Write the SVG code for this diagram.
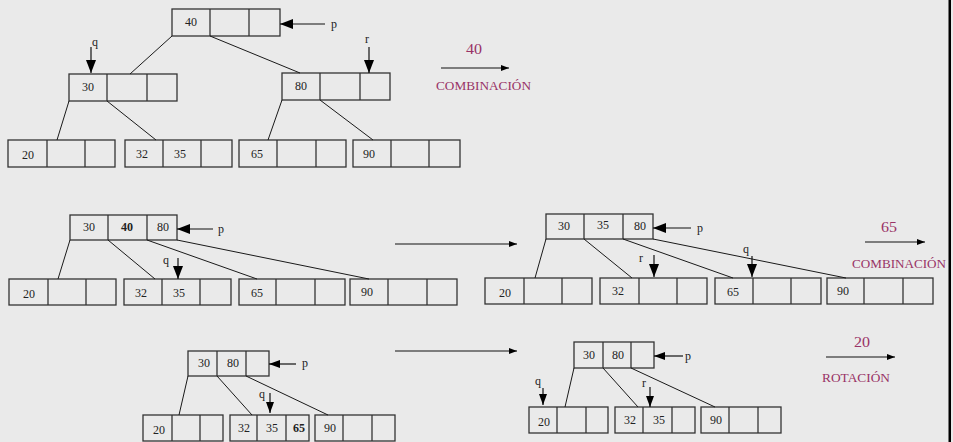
<svg xmlns="http://www.w3.org/2000/svg" width="953" height="442" viewBox="0 0 953 442">
<style>
.bx{fill:none;stroke:#333;stroke-width:1.3}
.dv{stroke:#333;stroke-width:1.3}
.ln{stroke:#1a1a1a;stroke-width:1;fill:none}
.t{font-family:"Liberation Serif","Times New Roman",serif;font-size:12px;fill:#222;text-anchor:middle}
.b{font-weight:bold}
.lb{font-family:"Liberation Serif","Times New Roman",serif;font-size:12px;fill:#222}
.op{font-family:"Liberation Serif","Times New Roman",serif;fill:#993366;text-anchor:middle}
.pa{stroke:#111;stroke-width:1.2;marker-end:url(#ah)}
.pm{stroke:#111;stroke-width:1.2;marker-end:url(#am)}
.ta{stroke:#111;stroke-width:1.2;marker-end:url(#as)}
</style>
<defs>
<marker id="ah" markerUnits="userSpaceOnUse" markerWidth="13" markerHeight="10" refX="13" refY="5" orient="auto"><path d="M0,0 L13,5 L0,10 z" fill="#000"/></marker>
<marker id="am" markerUnits="userSpaceOnUse" markerWidth="11" markerHeight="8" refX="11" refY="4" orient="auto"><path d="M0,0 L11,4 L0,8 z" fill="#000"/></marker>
<marker id="as" markerUnits="userSpaceOnUse" markerWidth="8" markerHeight="6" refX="8" refY="3" orient="auto"><path d="M0,0 L8,3 L0,6 z" fill="#000"/></marker>
</defs>
<rect x="0" y="0" width="953" height="442" fill="#eaeaea"/>
<rect x="948.5" y="0" width="2.5" height="442" fill="#000"/>

<!-- ===== Top tree ===== -->
<g id="t1-root"><rect class="bx" x="172" y="9" width="108" height="27"/><line class="dv" x1="210" y1="9" x2="210" y2="36"/><line class="dv" x1="249" y1="9" x2="249" y2="36"/><text class="t" x="191" y="26">40</text></g>
<g id="t1-n30"><rect class="bx" x="69" y="74" width="108" height="27"/><line class="dv" x1="107" y1="74" x2="107" y2="101"/><line class="dv" x1="147" y1="74" x2="147" y2="101"/><text class="t" x="88" y="91">30</text></g>
<g id="t1-n80"><rect class="bx" x="282" y="73" width="108" height="27"/><line class="dv" x1="320" y1="73" x2="320" y2="100"/><line class="dv" x1="360" y1="73" x2="360" y2="100"/><text class="t" x="301" y="90">80</text></g>
<g id="t1-l20"><rect class="bx" x="8" y="140" width="107" height="27"/><line class="dv" x1="47" y1="140" x2="47" y2="167"/><line class="dv" x1="85" y1="140" x2="85" y2="167"/><text class="t" x="28" y="159">20</text></g>
<g id="t1-l32"><rect class="bx" x="125" y="140" width="107" height="27"/><line class="dv" x1="163" y1="140" x2="163" y2="167"/><line class="dv" x1="201" y1="140" x2="201" y2="167"/><text class="t" x="142" y="158">32</text><text class="t" x="180" y="158">35</text></g>
<g id="t1-l65"><rect class="bx" x="239" y="140" width="107" height="27"/><line class="dv" x1="277" y1="140" x2="277" y2="167"/><line class="dv" x1="316" y1="140" x2="316" y2="167"/><text class="t" x="257" y="158">65</text></g>
<g id="t1-l90"><rect class="bx" x="353" y="140" width="107" height="27"/><line class="dv" x1="391" y1="140" x2="391" y2="167"/><line class="dv" x1="429" y1="140" x2="429" y2="167"/><text class="t" x="369" y="158">90</text></g>

<!-- ===== Middle left ===== -->
<g id="t2-root"><rect class="bx" x="70" y="215" width="107" height="25"/><line class="dv" x1="108" y1="215" x2="108" y2="240"/><line class="dv" x1="147" y1="215" x2="147" y2="240"/><text class="t" x="89" y="231">30</text><text class="t b" x="127" y="231">40</text><text class="t" x="163" y="231">80</text></g>
<g id="t2-l20"><rect class="bx" x="9" y="279" width="107" height="26"/><line class="dv" x1="48" y1="279" x2="48" y2="305"/><line class="dv" x1="86" y1="279" x2="86" y2="305"/><text class="t" x="29" y="298">20</text></g>
<g id="t2-l32"><rect class="bx" x="124" y="279" width="107" height="26"/><line class="dv" x1="162" y1="279" x2="162" y2="305"/><line class="dv" x1="200" y1="279" x2="200" y2="305"/><text class="t" x="141" y="297">32</text><text class="t" x="179" y="297">35</text></g>
<g id="t2-l65"><rect class="bx" x="239" y="279" width="106" height="26"/><line class="dv" x1="276" y1="279" x2="276" y2="305"/><line class="dv" x1="315" y1="279" x2="315" y2="305"/><text class="t" x="257" y="297">65</text></g>
<g id="t2-l90"><rect class="bx" x="350" y="279" width="107" height="26"/><line class="dv" x1="388" y1="279" x2="388" y2="305"/><line class="dv" x1="427" y1="279" x2="427" y2="305"/><text class="t" x="367" y="296">90</text></g>

<!-- ===== Middle right ===== -->
<g id="t3-root"><rect class="bx" x="546" y="214" width="107" height="25"/><line class="dv" x1="584" y1="214" x2="584" y2="239"/><line class="dv" x1="623" y1="214" x2="623" y2="239"/><text class="t" x="564" y="230">30</text><text class="t" x="603" y="229">35</text><text class="t" x="640" y="230">80</text></g>
<g id="t3-l20"><rect class="bx" x="485" y="278" width="107" height="26"/><line class="dv" x1="524" y1="278" x2="524" y2="304"/><line class="dv" x1="562" y1="278" x2="562" y2="304"/><text class="t" x="505" y="297">20</text></g>
<g id="t3-l32"><rect class="bx" x="600" y="278" width="107" height="26"/><line class="dv" x1="639" y1="278" x2="639" y2="304"/><line class="dv" x1="677" y1="278" x2="677" y2="304"/><text class="t" x="618" y="295">32</text></g>
<g id="t3-l65"><rect class="bx" x="715" y="278" width="106" height="26"/><line class="dv" x1="753" y1="278" x2="753" y2="304"/><line class="dv" x1="791" y1="278" x2="791" y2="304"/><text class="t" x="733" y="296">65</text></g>
<g id="t3-l90"><rect class="bx" x="827" y="278" width="106" height="26"/><line class="dv" x1="864" y1="278" x2="864" y2="304"/><line class="dv" x1="903" y1="278" x2="903" y2="304"/><text class="t" x="843" y="295">90</text></g>

<!-- ===== Bottom left ===== -->
<g id="t4-root"><rect class="bx" x="188" y="351" width="81" height="25"/><line class="dv" x1="217" y1="351" x2="217" y2="376"/><line class="dv" x1="246" y1="351" x2="246" y2="376"/><text class="t" x="204" y="367">30</text><text class="t" x="233" y="367">80</text></g>
<g id="t4-l20"><rect class="bx" x="143" y="415" width="80" height="26"/><line class="dv" x1="172" y1="415" x2="172" y2="441"/><line class="dv" x1="200" y1="415" x2="200" y2="441"/><text class="t" x="159" y="434">20</text></g>
<g id="t4-l32"><rect class="bx" x="230" y="415" width="79" height="26"/><line class="dv" x1="257" y1="415" x2="257" y2="441"/><line class="dv" x1="286" y1="415" x2="286" y2="441"/><text class="t" x="244" y="432">32</text><text class="t" x="272" y="432">35</text><text class="t b" x="299" y="432">65</text></g>
<g id="t4-l90"><rect class="bx" x="315" y="415" width="80" height="26"/><line class="dv" x1="343" y1="415" x2="343" y2="441"/><line class="dv" x1="372" y1="415" x2="372" y2="441"/><text class="t" x="330" y="432">90</text></g>

<!-- ===== Bottom right ===== -->
<g id="t5-root"><rect class="bx" x="574" y="342" width="80" height="26"/><line class="dv" x1="603" y1="342" x2="603" y2="368"/><line class="dv" x1="631" y1="342" x2="631" y2="368"/><text class="t" x="589" y="359">30</text><text class="t" x="618" y="359">80</text></g>
<g id="t5-l20"><rect class="bx" x="529" y="407" width="79" height="26"/><line class="dv" x1="557" y1="407" x2="557" y2="433"/><line class="dv" x1="586" y1="407" x2="586" y2="433"/><text class="t" x="544" y="426">20</text></g>
<g id="t5-l32"><rect class="bx" x="615" y="407" width="80" height="26"/><line class="dv" x1="643" y1="407" x2="643" y2="433"/><line class="dv" x1="672" y1="407" x2="672" y2="433"/><text class="t" x="630" y="424">32</text><text class="t" x="659" y="424">35</text></g>
<g id="t5-l90"><rect class="bx" x="701" y="407" width="80" height="26"/><line class="dv" x1="729" y1="407" x2="729" y2="433"/><line class="dv" x1="758" y1="407" x2="758" y2="433"/><text class="t" x="716" y="424">90</text></g>

<!-- ===== Connectors ===== -->
<g id="connectors">
<line class="ln" x1="172" y1="36" x2="130" y2="74"/>
<line class="ln" x1="210" y1="36" x2="300" y2="73"/>
<line class="ln" x1="69" y1="101" x2="57" y2="140"/>
<line class="ln" x1="107" y1="101" x2="156" y2="140"/>
<line class="ln" x1="282" y1="100" x2="268" y2="140"/>
<line class="ln" x1="320" y1="100" x2="373" y2="140"/>

<line class="ln" x1="70" y1="240" x2="58" y2="279"/>
<line class="ln" x1="108" y1="240" x2="155" y2="279"/>
<line class="ln" x1="147" y1="240" x2="257" y2="279"/>
<line class="ln" x1="177" y1="240" x2="369" y2="279"/>

<line class="ln" x1="546" y1="239" x2="535" y2="278"/>
<line class="ln" x1="584" y1="239" x2="632" y2="278"/>
<line class="ln" x1="623" y1="239" x2="733" y2="278"/>
<line class="ln" x1="653" y1="239" x2="846" y2="278"/>

<line class="ln" x1="188" y1="376" x2="179" y2="415"/>
<line class="ln" x1="217" y1="376" x2="252" y2="415"/>
<line class="ln" x1="246" y1="376" x2="328" y2="415"/>

<line class="ln" x1="574" y1="368" x2="565" y2="407"/>
<line class="ln" x1="603" y1="368" x2="638" y2="407"/>
<line class="ln" x1="631" y1="368" x2="715" y2="407"/>

<!-- pointers -->
<line class="pa" x1="325" y1="24" x2="280" y2="24"/>
<line class="pa" x1="91" y1="47" x2="91" y2="73"/>
<line class="pa" x1="369" y1="47" x2="369" y2="73"/>
<line class="pa" x1="213" y1="229" x2="177" y2="229"/>
<line class="pa" x1="178" y1="258" x2="178" y2="279"/>
<line class="pa" x1="691" y1="228" x2="653" y2="228"/>
<line class="pa" x1="654" y1="255" x2="654" y2="277"/>
<line class="pa" x1="752" y1="256" x2="752" y2="277"/>
<line class="pm" x1="296" y1="364" x2="269" y2="364"/>
<line class="pm" x1="270" y1="393" x2="270" y2="413"/>
<line class="pm" x1="683" y1="356" x2="654" y2="356"/>
<line class="pm" x1="543" y1="388" x2="543" y2="405"/>
<line class="pm" x1="650" y1="387" x2="650" y2="407"/>

<!-- transition arrows -->
<line class="ta" x1="441" y1="68" x2="509" y2="68"/>
<line class="ta" x1="395" y1="244" x2="517" y2="244"/>
<line class="ta" x1="865" y1="242" x2="925" y2="242"/>
<line class="ta" x1="395" y1="351" x2="517" y2="351"/>
<line class="ta" x1="826" y1="357" x2="895" y2="357"/>
</g>

<!-- pointer labels -->
<g id="labels">
<text class="lb" x="331" y="28">p</text>
<text class="lb" x="92" y="46">q</text>
<text class="lb" x="365" y="43">r</text>
<text class="lb" x="218" y="233">p</text>
<text class="lb" x="163" y="264">q</text>
<text class="lb" x="697" y="232">p</text>
<text class="lb" x="639" y="262">r</text>
<text class="lb" x="743" y="253">q</text>
<text class="lb" x="302" y="367">p</text>
<text class="lb" x="259" y="398">q</text>
<text class="lb" x="685" y="360">p</text>
<text class="lb" x="535" y="385">q</text>
<text class="lb" x="642" y="387">r</text>
</g>

<!-- operation labels -->
<g id="ops">
<text class="op" x="474" y="54" font-size="14.5" textLength="16" lengthAdjust="spacingAndGlyphs">40</text>
<text class="op" x="483.5" y="90" font-size="11.5" textLength="95" lengthAdjust="spacingAndGlyphs">COMBINACIÓN</text>
<text class="op" x="889" y="232" font-size="14.5" textLength="16" lengthAdjust="spacingAndGlyphs">65</text>
<text class="op" x="899" y="268" font-size="11.5" textLength="94" lengthAdjust="spacingAndGlyphs">COMBINACIÓN</text>
<text class="op" x="862" y="347" font-size="14.5" textLength="16" lengthAdjust="spacingAndGlyphs">20</text>
<text class="op" x="856" y="382" font-size="11.5" textLength="68" lengthAdjust="spacingAndGlyphs">ROTACIÓN</text>
</g>
</svg>
